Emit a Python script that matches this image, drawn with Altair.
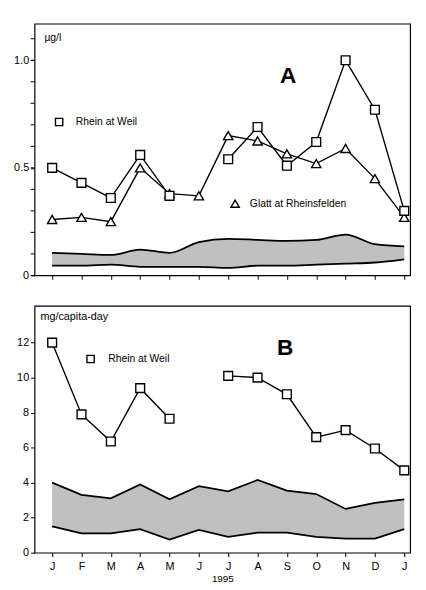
import json
import altair as alt
import pandas as pd

# ---------------- data ----------------
months = ["J", "F", "M", "A", "M", "J", "J", "A", "S", "O", "N", "D", "J"]
month_idx = list(range(13))

# Panel A (µg/l)
rhein_a = [0.50, 0.43, 0.36, 0.56, 0.37, None, 0.54, 0.69, 0.51, 0.62, 1.00, 0.77, 0.30]
glatt_a = [0.26, 0.27, 0.25, 0.50, 0.38, 0.37, 0.65, 0.625, 0.565, 0.52, 0.59, 0.45, 0.27]
band_a_hi = [0.105, 0.10, 0.095, 0.12, 0.105, 0.155, 0.17, 0.165, 0.16, 0.165, 0.19, 0.145, 0.135]
band_a_lo = [0.045, 0.045, 0.05, 0.04, 0.04, 0.04, 0.035, 0.045, 0.045, 0.05, 0.055, 0.06, 0.075]

# Panel B (mg/capita-day)
rhein_b = [12.0, 7.9, 6.35, 9.4, 7.65, None, 10.1, 10.0, 9.05, 6.6, 7.0, 5.95, 4.7]
band_b_hi = [4.0, 3.3, 3.1, 3.9, 3.05, 3.8, 3.5, 4.15, 3.55, 3.35, 2.5, 2.85, 3.05]
band_b_lo = [1.5, 1.1, 1.1, 1.35, 0.75, 1.3, 0.9, 1.15, 1.15, 0.9, 0.8, 0.8, 1.35]

ylabels_a = [0, 0.5, 1.0]
yticks_a_minor = [round(i * 0.1, 1) for i in range(12)]
yticks_b = [0, 2, 4, 6, 8, 10, 12]

FONT = "Liberation Sans"


def series_df(values):
    rows = []
    seg = 0
    for m, v in zip(month_idx, values):
        if v is None:
            seg += 1
            continue
        rows.append({"m": m, "v": v, "seg": seg})
    return pd.DataFrame(rows)


band_a = pd.DataFrame({"m": month_idx, "hi": band_a_hi, "lo": band_a_lo})
band_b = pd.DataFrame({"m": month_idx, "hi": band_b_hi, "lo": band_b_lo})
rA = series_df(rhein_a)
gA = series_df(glatt_a)
rB = series_df(rhein_b)
minor_a = pd.DataFrame({"v": yticks_a_minor})

xscale = alt.Scale(domain=[-0.6, 12.2], nice=False, zero=False)
month_expr = "%s[datum.value]" % json.dumps(months)

xA = alt.X("m:Q", scale=xscale,
           axis=alt.Axis(values=month_idx, labels=False, title=None, grid=False,
                         tickSize=4, domain=False))
xB = alt.X("m:Q", scale=xscale,
           axis=alt.Axis(values=month_idx, labelExpr=month_expr, title="1995",
                         grid=False, tickSize=4, domain=False, labelPadding=4,
                         labelOverlap=False,
                         titleFontSize=10, titleFontWeight="normal", titlePadding=2,
                         labelFontSize=11))

lblA = "datum.value == 0 ? '0' : format(datum.value, '.1f')"
yscaleA = alt.Scale(domain=[0, 1.17], nice=False)
yscaleB = alt.Scale(domain=[0, 14.1], nice=False)
yaxA = alt.Axis(values=ylabels_a, labelExpr=lblA, labelOverlap=False, title=None,
                grid=False, tickSize=4, domain=False)
yaxB = alt.Axis(values=yticks_b, labelOverlap=False, title=None, grid=False,
                tickSize=4, domain=False)

BAND = "#c0c0c0"


def band_layers(df, x, yscale, yax, interp):
    area = alt.Chart(df).mark_area(color=BAND, interpolate=interp).encode(
        x=x, y=alt.Y("lo:Q", scale=yscale, axis=yax), y2="hi:Q")
    hi = alt.Chart(df).mark_line(color="black", strokeWidth=1.8, interpolate=interp).encode(
        x=x, y=alt.Y("hi:Q", scale=yscale))
    lo = alt.Chart(df).mark_line(color="black", strokeWidth=1.8, interpolate=interp).encode(
        x=x, y=alt.Y("lo:Q", scale=yscale))
    return [area, hi, lo]


def series_layers(df, x, yscale, shape, size):
    line = alt.Chart(df).mark_line(color="black", strokeWidth=1.4).encode(
        x=x, y=alt.Y("v:Q", scale=yscale), detail="seg:N")
    pts = alt.Chart(df).mark_point(shape=shape, size=size, filled=True, fill="white",
                                   stroke="black", strokeWidth=1.4, opacity=1).encode(
        x=x, y=alt.Y("v:Q", scale=yscale))
    return [line, pts]


def text(t, px, py, size=10.5, weight="normal", align="left"):
    return alt.Chart(pd.DataFrame({"t": [t]})).mark_text(
        align=align, baseline="middle", fontSize=size, fontWeight=weight, font=FONT,
        color="black").encode(x=alt.value(px), y=alt.value(py), text="t:N")


def sym(shape, px, py, size):
    return alt.Chart(pd.DataFrame({"t": [shape]})).mark_point(
        shape=shape, size=size, filled=True, fill="white", stroke="black",
        strokeWidth=1.4, opacity=1).encode(x=alt.value(px), y=alt.value(py))


minor_ticks = alt.Chart(minor_a).mark_rule(color="black", strokeWidth=1).encode(
    y=alt.Y("v:Q", scale=yscaleA), x=alt.value(-4), x2=alt.value(0))

frame = alt.ViewBackground(stroke="black", strokeWidth=1.2)

panelA = alt.layer(
    *band_layers(band_a, xA, yscaleA, yaxA, "monotone"),
    minor_ticks,
    *series_layers(gA, xA, yscaleA, "triangle-up", 90),
    *series_layers(rA, xA, yscaleA, "square", 80),
    text("µg/l", 10, 15),
    text("A", 258, 53, size=23, weight="bold", align="center"),
    sym("square", 25, 100, 55),
    text("Rhein at Weil", 42, 100),
    sym("triangle-up", 204, 183, 70),
    text("Glatt at Rheinsfelden", 219, 183),
).properties(width=382, height=256, view=frame)

panelB = alt.layer(
    *band_layers(band_b, xB, yscaleB, yaxB, "linear"),
    *series_layers(rB, xB, yscaleB, "square", 80),
    text("mg/capita-day", 6, 11, size=11),
    text("B", 255, 43, size=23, weight="bold", align="center"),
    sym("square", 57, 54, 55),
    text("Rhein at Weil", 75, 54),
).properties(width=382, height=251, view=frame)

chart = alt.vconcat(panelA, panelB, spacing=24).properties(
    padding={"left": 5, "top": 10, "right": 5, "bottom": 2}
).configure_view(stroke="black", strokeWidth=1.2).configure_axis(
    tickColor="black", labelColor="black", titleColor="black",
    labelFont=FONT, titleFont=FONT, labelFontSize=11
)

chart.save("out.html", embed_options={"renderer": "svg", "actions": False})
